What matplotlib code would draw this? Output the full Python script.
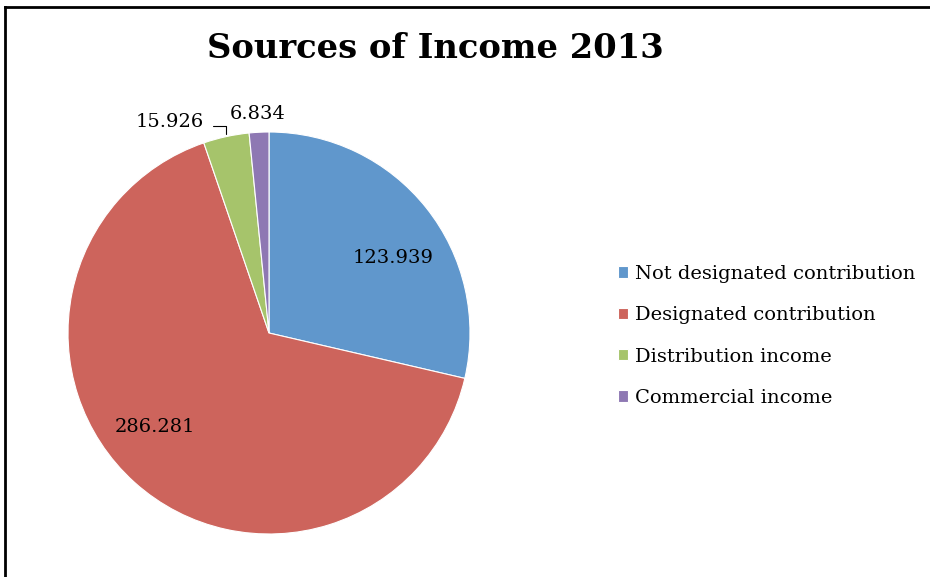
import matplotlib
matplotlib.use("Agg")
import matplotlib.pyplot as plt
import numpy as np
from matplotlib.lines import Line2D

plt.rcParams['font.family'] = 'DejaVu Serif'

labels = ['Not designated contribution', 'Designated contribution',
          'Distribution income', 'Commercial income']
values = [123.939, 286.281, 15.926, 6.834]
colors = ['#6097CC', '#CD645C', '#A6C46B', '#8E78B3']
value_text = ['123.939', '286.281', '15.926', '6.834']

W, H = 930, 577
fig = plt.figure(figsize=(W / 100, H / 100), dpi=100)

# pie centre (269, 333) px, radius 201 px
cx, cy, r = 269, 333, 201
ax = fig.add_axes([(cx - r) / W, (H - cy - r) / H, 2 * r / W, 2 * r / H])
wedges, _ = ax.pie(values, colors=colors, startangle=90, counterclock=False,
                   radius=1, wedgeprops=dict(linewidth=0.8, edgecolor='white'))
ax.set_xlim(-1, 1)
ax.set_ylim(-1, 1)
ax.set_aspect('equal')
ax.axis('off')

mids = [np.deg2rad((w.theta1 + w.theta2) / 2) for w in wedges]
fs = 14

# labels inside the two big slices
ax.text(0.72 * np.cos(mids[0] - 0.13), 0.72 * np.sin(mids[0] - 0.13), value_text[0],
        ha='center', va='center', fontsize=fs)
ax.text(0.74 * np.cos(mids[1] - 0.14), 0.73 * np.sin(mids[1] - 0.14), value_text[1],
        ha='center', va='center', fontsize=fs)

# small slices: outside labels, green one with a leader line
ax.annotate(value_text[2], xy=(np.cos(mids[2]), np.sin(mids[2]) + 0.015),
            xytext=(-0.322, 1.05), ha='right', va='center', fontsize=fs,
            arrowprops=dict(arrowstyle='-', color='black', lw=0.8,
                            connectionstyle='angle,angleA=0,angleB=90,rad=0',
                            relpos=(1, 0.25), shrinkA=4, shrinkB=0),
            annotation_clip=False)
ax.text(1.09 * np.cos(mids[3]), 1.09 * np.sin(mids[3]), value_text[3],
        ha='center', va='center', fontsize=fs)

fig.text(435 / W, 1 - 48 / H, 'Sources of Income 2013', ha='center', va='center',
         fontsize=24.3, fontweight='bold')

fig.legend(wedges, labels, loc='center left', bbox_to_anchor=(600 / W, 1 - 336 / H),
           frameon=False, fontsize=fs, handlelength=0.52, handleheight=0.52,
           handletextpad=0.4, labelspacing=1.2)

# chart border: only left and top edges visible
fig.add_artist(Line2D([5 / W, 5 / W], [0, 1 - 6.5 / H], color='black', lw=2))
fig.add_artist(Line2D([5 / W, 1], [1 - 6.5 / H, 1 - 6.5 / H], color='black', lw=2))

fig.savefig('out.png', dpi=100)
